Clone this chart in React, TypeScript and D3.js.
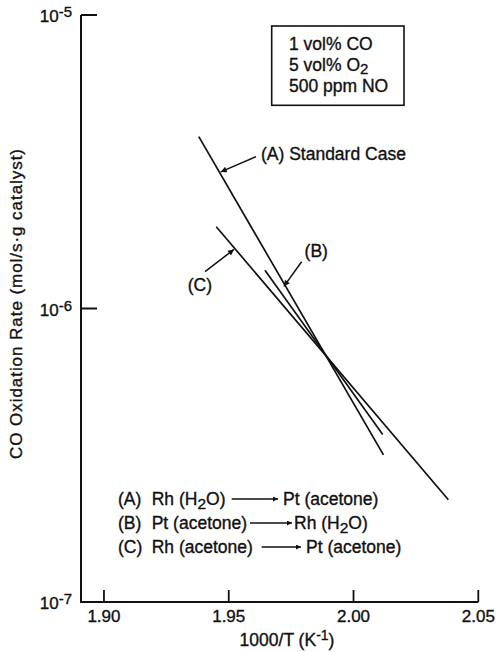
import React from 'react';
import * as d3 from 'd3';

// axis ticks
const xTicks = [1.9, 1.95, 2.0, 2.05];
const xTickLabels = ['1.90', '1.95', '2.00', '2.05'];
const yTicks = [1e-5, 1e-6, 1e-7];
const yTickExponents = ['-5', '-6', '-7'];

// fitted lines (1000/T in K^-1, rate in mol/s.g)
const seriesNames = ['A', 'B', 'C'];
const invT_A = [1.938, 2.012];
const rate_A = [3.85e-6, 3.17e-7];
const invT_B = [1.9645, 2.0117];
const rate_B = [1.35e-6, 3.72e-7];
const invT_C = [1.945, 2.038];
const rate_C = [1.9e-6, 2.23e-7];

// legend text
const legendKeys = ['(A)', '(B)', '(C)'];
const legendFrom = ['Rh (H2O)', 'Pt (acetone)', 'Rh (acetone)'];
const legendTo = ['Pt (acetone)', 'Rh (H2O)', 'Pt (acetone)'];

const conditions = ['1 vol% CO', '5 vol% O2', '500 ppm NO'];

// callouts: label, tail point, tip point (data coords)
const calloutLabels = ['(A) Standard Case', '(B)', '(C)'];
const calloutTail = [[1.9609, 3.29e-6], [1.9792, 1.443e-6], [1.9405, 1.335e-6]];
const calloutTip = [[1.9468, 2.92e-6], [1.9721, 1.19e-6], [1.9521, 1.59e-6]];

const W = 498;
const H = 652;
const FONT = '"Liberation Sans", Arial, Helvetica, sans-serif';
const INK = '#111';

// writes "H2O" / "O2" with a dropped 2
function chem(s: string, size: number, drop = 4) {
  const parts = s.split(/(?<=[HO])2/);
  const out: any[] = [];
  parts.forEach((p, i) => {
    if (i > 0) {
      out.push(<tspan key={'s' + i} dy={drop} fontSize={size - 2}>2</tspan>);
      out.push(<tspan key={'p' + i} dy={-drop}>{p}</tspan>);
    } else {
      out.push(<tspan key={'p' + i}>{p}</tspan>);
    }
  });
  return out;
}

export default function App() {
  const x = d3.scaleLinear().domain([1.8908, 2.05]).range([81, 478.3]);
  const y = d3.scaleLog().domain([1e-7, 1e-5]).range([602, 15]);

  const line = d3.line<[number, number]>()
    .x(d => x(d[0]))
    .y(d => y(d[1]));

  const series = [
    d3.zip(invT_A, rate_A),
    d3.zip(invT_B, rate_B),
    d3.zip(invT_C, rate_C),
  ] as [number, number][][];

  // legend layout
  const legendX = 118;
  const fromX = 151.7;
  const legendBase = [505, 529, 553];
  const arrowSpan = [[231.7, 278], [250, 292], [261.7, 301]];
  const toX = [283, 294, 306];

  return (
    <svg width={W} height={H} style={{ position: 'absolute', left: 0, top: 0, background: '#fff' }}
      fontFamily={FONT}>
      <defs>
        <marker id="head" viewBox="0 0 10 10" refX="10" refY="5" markerUnits="userSpaceOnUse"
          markerWidth="9" markerHeight="6" orient="auto">
          <path d="M0,0 L10,5 L0,10 z" fill={INK} />
        </marker>
        <marker id="headLong" viewBox="0 0 10 10" refX="10" refY="5" markerUnits="userSpaceOnUse"
          markerWidth="10" markerHeight="5" orient="auto">
          <path d="M0,0 L10,5 L0,10 z" fill={INK} />
        </marker>
      </defs>

      {/* axes */}
      <path d={`M${x.range()[0]},${y.range()[1]}V${y.range()[0]}H${x.range()[1]}`}
        fill="none" stroke={INK} strokeWidth={2} />
      {yTicks.slice(0, 2).map(t => (
        <line key={t} x1={81} x2={97} y1={y(t)} y2={y(t)} stroke={INK} strokeWidth={2} />
      ))}
      {xTicks.map(t => (
        <line key={t} x1={x(t)} x2={x(t)} y1={602} y2={590} stroke={INK} strokeWidth={1.8} />
      ))}

      <g fill={INK} stroke={INK} strokeWidth={0.35}>
        {yTicks.map((t, i) => (
          <text key={t} x={72} y={y(t) + 7} textAnchor="end" fontSize={17}>
            10<tspan dy={-5} fontSize={15}>{yTickExponents[i]}</tspan>
          </text>
        ))}
        {xTicks.map((t, i) => (
          <text key={t} x={x(t)} y={622} textAnchor="middle" fontSize={17}>
            {xTickLabels[i]}
          </text>
        ))}

        <text x={287} y={646} textAnchor="middle" fontSize={17.5}>
          1000/T (K<tspan dy={-6} fontSize={14}>-1</tspan><tspan dy={6}>)</tspan>
        </text>
        <text transform="translate(21.5,304) rotate(-90)" textAnchor="middle" fontSize={17}
          textLength={310} lengthAdjust="spacing">
          CO Oxidation Rate (mol/s·g catalyst)
        </text>

        {conditions.map((c, i) => (
          <text key={c} x={289} y={50 + i * 21} fontSize={17.5}>{chem(c, 17, 3)}</text>
        ))}
      </g>

      {/* conditions box */}
      <rect x={271.7} y={26} width={132.3} height={79.3} fill="none" stroke={INK} strokeWidth={1.6} />

      {/* lines */}
      {series.map((d, i) => (
        <path key={seriesNames[i]} d={line(d) || ''} fill="none" stroke={INK} strokeWidth={1.7} />
      ))}

      {/* callouts */}
      {calloutLabels.map((lab, i) => {
        const tail = calloutTail[i];
        const tip = calloutTip[i];
        const tx = x(tail[0]);
        const ty = y(tail[1]);
        const anchor = i === 2 ? 'end' : 'start';
        const lx = i === 0 ? tx + 5 : i === 1 ? tx + 3 : tx + 7;
        const ly = i === 0 ? ty + 3 : i === 1 ? ty - 5 : ty + 19;
        return (
          <g key={lab}>
            <line x1={tx} y1={ty} x2={x(tip[0])} y2={y(tip[1])} stroke={INK} strokeWidth={1.5}
              markerEnd="url(#head)" />
            <text x={lx} y={ly} textAnchor={anchor} fontSize={17.5} fill={INK} stroke={INK}
              strokeWidth={0.35}>{lab}</text>
          </g>
        );
      })}

      {/* legend */}
      {legendKeys.map((k, i) => (
        <g key={k}>
          <g fill={INK} stroke={INK} strokeWidth={0.35} fontSize={17.5}>
            <text x={legendX} y={legendBase[i]}>{k}</text>
            <text x={fromX} y={legendBase[i]}>{chem(legendFrom[i], 17.5)}</text>
            <text x={toX[i]} y={legendBase[i]}>{chem(legendTo[i], 17.5)}</text>
          </g>
          <line x1={arrowSpan[i][0]} x2={arrowSpan[i][1]} y1={legendBase[i] - 6} y2={legendBase[i] - 6}
            stroke={INK} strokeWidth={1.4} markerEnd="url(#headLong)" />
        </g>
      ))}
    </svg>
  );
}
